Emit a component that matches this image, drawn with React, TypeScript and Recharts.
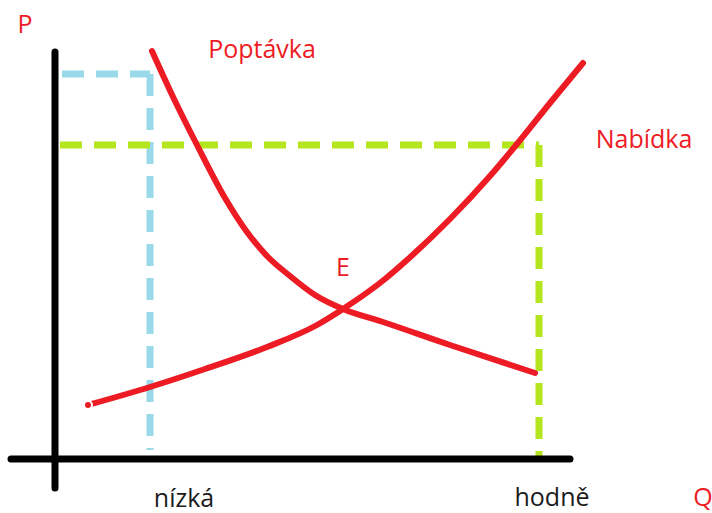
import React from 'react'
import { LineChart, Line, XAxis, YAxis, ReferenceLine, ReferenceDot } from 'recharts'

// Q measured from the vertical axis, P measured up from the horizontal axis
const demandQ = [97, 120, 142, 170, 192, 213, 235, 260, 288, 328, 395, 480]
const demandP = [408, 358, 314, 261, 227, 202, 183, 164, 150, 137, 114, 86]
const supplyQ = [33, 95, 150, 212, 262, 288, 330, 352, 395, 435, 462, 495, 528]
const supplyP = [54, 72, 90, 112, 134, 150, 180, 199, 240, 283, 315, 356, 396]

const lowQ = 95      // nízká
const highQ = 484    // hodně
const lowP = 314
const highP = 385

const C = {
  red: '#ed1c24', black: '#000000', text: '#1b1b1b',
  blue: '#99d9ea', green: '#b5e61d',
}

const demand = demandQ.map((q, i) => ({ q, p: demandP[i] }))
const supply = supplyQ.map((q, i) => ({ q, p: supplyP[i] }))

const notes = [
  { t: 'P', q: -30, p: 426, c: C.red },
  { t: 'Poptávka', q: 207, p: 401, c: C.red },
  { t: 'Nabídka', q: 589, p: 311, c: C.red },
  { t: 'E', q: 288, p: 183, c: C.red },
  { t: 'nízká', q: 129, p: -48, c: C.text },
  { t: 'hodně', q: 497, p: -47, c: C.text },
  { t: 'Q', q: 648, p: -47, c: C.red },
]

const font = '"Segoe UI", "Open Sans", "Noto Sans", sans-serif'

export default function App() {
  return (
    <div style={{ position: 'absolute', left: 0, top: 0, width: 712, height: 513, background: '#fff' }}>
      <LineChart width={712} height={513} margin={{ top: 0, right: 0, bottom: 0, left: 0 }}>
        <XAxis type="number" dataKey="q" domain={[-55, 657]} allowDataOverflow hide />
        <YAxis type="number" dataKey="p" domain={[-54, 459]} allowDataOverflow hide />

        {/* guide lines */}
        <ReferenceLine segment={[{ x: 7, y: highP }, { x: lowQ, y: highP }]} stroke={C.blue} strokeWidth={7} strokeDasharray="22 12" />
        <ReferenceLine segment={[{ x: lowQ, y: highP }, { x: lowQ, y: 9 }]} stroke={C.blue} strokeWidth={7} strokeDasharray="22 12" />
        <ReferenceLine segment={[{ x: 5, y: lowP }, { x: highQ, y: lowP }]} stroke={C.green} strokeWidth={7} strokeDasharray="22 12" />
        <ReferenceLine segment={[{ x: highQ, y: lowP }, { x: highQ, y: 1 }]} stroke={C.green} strokeWidth={7} strokeDasharray="22 12" />

        {/* axes */}
        <ReferenceLine segment={[{ x: 0, y: 407 }, { x: 0, y: -29 }]} stroke={C.black} strokeWidth={7} strokeLinecap="round" />
        <ReferenceLine segment={[{ x: -44, y: 0 }, { x: 515, y: 0 }]} stroke={C.black} strokeWidth={7} strokeLinecap="round" />

        <Line data={demand} dataKey="p" type="monotone" stroke={C.red} strokeWidth={6} strokeLinecap="round" dot={false} isAnimationActive={false} />
        <Line data={supply} dataKey="p" type="monotone" stroke={C.red} strokeWidth={6} strokeLinecap="round" dot={false} isAnimationActive={false} />

        {notes.map(n => (
          <ReferenceDot key={n.t} x={n.q} y={n.p} r={0} ifOverflow="visible"
            shape={(s: any) => (
              <text x={s.cx} y={s.cy} textAnchor="middle" fill={n.c} fontSize={25} fontFamily={font}>{n.t}</text>
            )} />
        ))}
      </LineChart>
    </div>
  )
}
